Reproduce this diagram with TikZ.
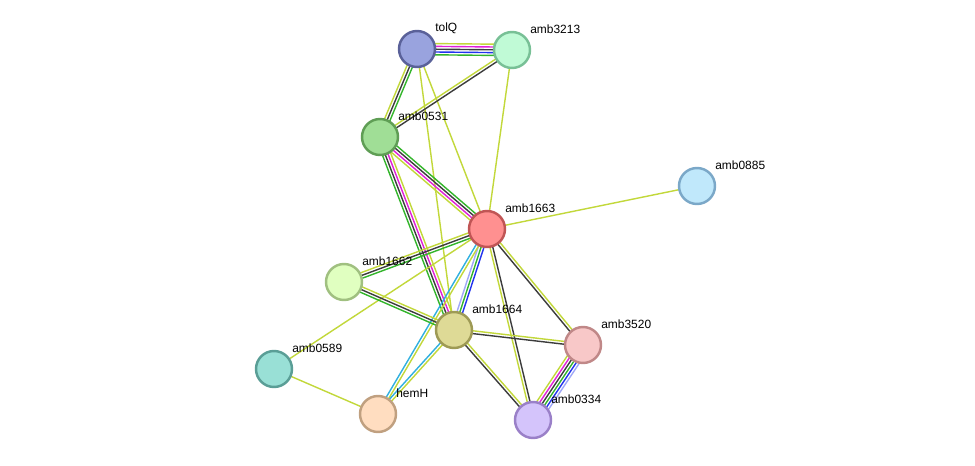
\documentclass[tikz,border=0pt]{standalone}
\usepackage{fontspec}
\setmainfont{Liberation Sans}
\usetikzlibrary{calc}
\pgfdeclarelayer{background}
\pgfsetlayers{background,main}

\definecolor{stryellow}{HTML}{C2D83A}
\definecolor{strgreen}{HTML}{33B52B}
\definecolor{strblack}{HTML}{3C3C3C}
\definecolor{strmagenta}{HTML}{E020D8}
\definecolor{strblue}{HTML}{2233EE}
\definecolor{strlav}{HTML}{A0A8F8}
\definecolor{strcyan}{HTML}{30B0E0}

\tikzset{
  prot/.style={circle, minimum size=0.72cm, inner sep=0pt, line width=1.4pt},
  lbl/.style={anchor=west, inner sep=0pt, font=\fontsize{6.8}{8}\selectfont},
  edge/.style={line width=0.8pt}
}

% one line per colour, side by side
\newcommand{\stredge}[3]{%
  \foreach \c [count=\k] in {#3}{\xdef\edgen{\k}}%
  \foreach \c [count=\k] in {#3}{%
    \pgfmathsetmacro{\off}{(\k-(\edgen+1)/2)*1.6}%
    \draw[edge, \c] ($(#1)!\off pt!90:(#2)$) -- ($(#2)!\off pt!-90:(#1)$);
  }}

\begin{document}
\begin{tikzpicture}[x=0.02cm, y=-0.02cm]
\useasboundingbox (0,0) rectangle (975,466);
\node[prot, fill={rgb,255:red,153;green,163;blue,222}, draw={rgb,255:red,90;green,97;blue,153}] (tolQ) at (417,49) {};
\node[prot, fill={rgb,255:red,192;green,250;blue,214}, draw={rgb,255:red,120;green,192;blue,150}] (amb3213) at (512,50) {};
\node[prot, fill={rgb,255:red,160;green,222;blue,150}, draw={rgb,255:red,95;green,158;blue,85}] (amb0531) at (380,137) {};
\node[prot, fill={rgb,255:red,192;green,232;blue,251}, draw={rgb,255:red,123;green,168;blue,200}] (amb0885) at (697,186) {};
\node[prot, fill={rgb,255:red,255;green,144;blue,144}, draw={rgb,255:red,192;green,85;blue,85}] (amb1663) at (487,229) {};
\node[prot, fill={rgb,255:red,224;green,255;blue,192}, draw={rgb,255:red,160;green,192;blue,128}] (amb1662) at (344,282) {};
\node[prot, fill={rgb,255:red,222;green,218;blue,150}, draw={rgb,255:red,158;green,154;blue,85}] (amb1664) at (454,330) {};
\node[prot, fill={rgb,255:red,248;green,200;blue,200}, draw={rgb,255:red,192;green,136;blue,136}] (amb3520) at (583,345) {};
\node[prot, fill={rgb,255:red,153;green,224;blue,214}, draw={rgb,255:red,90;green,158;blue,150}] (amb0589) at (274,369) {};
\node[prot, fill={rgb,255:red,255;green,221;blue,192}, draw={rgb,255:red,192;green,160;blue,128}] (hemH) at (378,414) {};
\node[prot, fill={rgb,255:red,212;green,196;blue,251}, draw={rgb,255:red,154;green,128;blue,200}] (amb0334) at (533,420) {};

\node[lbl] (tolQ-t) at (435,28) {tolQ};
\node[lbl] (amb3213-t) at (530,29) {amb3213};
\node[lbl] (amb0531-t) at (398,116) {amb0531};
\node[lbl] (amb0885-t) at (715,165) {amb0885};
\node[lbl] (amb1663-t) at (505,208) {amb1663};
\node[lbl] (amb1662-t) at (362,261) {amb1662};
\node[lbl] (amb1664-t) at (472,309) {amb1664};
\node[lbl] (amb3520-t) at (601,324) {amb3520};
\node[lbl] (amb0589-t) at (292,348) {amb0589};
\node[lbl] (hemH-t) at (396,393) {hemH};
\node[lbl] (amb0334-t) at (551,399) {amb0334};

\begin{pgfonlayer}{background}
\fill[white] (0,0) rectangle (975,466);
\stredge{tolQ}{amb3213}{strgreen,strblue,strblack,strmagenta,stryellow}
\stredge{tolQ}{amb0531}{stryellow,strblack,strgreen}
\stredge{tolQ}{amb1664}{stryellow}
\stredge{tolQ}{amb1663}{stryellow}
\stredge{amb3213}{amb0531}{stryellow,strblack}
\stredge{amb3213}{amb1663}{stryellow}
\stredge{amb0531}{amb1663}{stryellow,strmagenta,strblack,strgreen}
\stredge{amb0531}{amb1664}{strgreen,strblack,strmagenta,stryellow}
\stredge{amb1663}{amb0885}{stryellow}
\stredge{amb1663}{amb1662}{stryellow,strblack,strgreen}
\stredge{amb1663}{amb1664}{strlav,strgreen,strblue}
\stredge{amb1663}{hemH}{strcyan,stryellow}
\stredge{amb1663}{amb0589}{stryellow}
\stredge{amb1663}{amb3520}{strblack,stryellow}
\stredge{amb1663}{amb0334}{stryellow,strblack}
\stredge{amb1662}{amb1664}{strgreen,strblack,stryellow}
\stredge{amb1664}{amb3520}{strblack,stryellow}
\stredge{amb1664}{amb0334}{strblack,stryellow}
\stredge{amb1664}{hemH}{strcyan,stryellow}
\stredge{amb3520}{amb0334}{stryellow,strmagenta,strblack,strgreen,strblue,strlav}
\stredge{amb0589}{hemH}{stryellow}
\end{pgfonlayer}
\end{tikzpicture}
\end{document}
